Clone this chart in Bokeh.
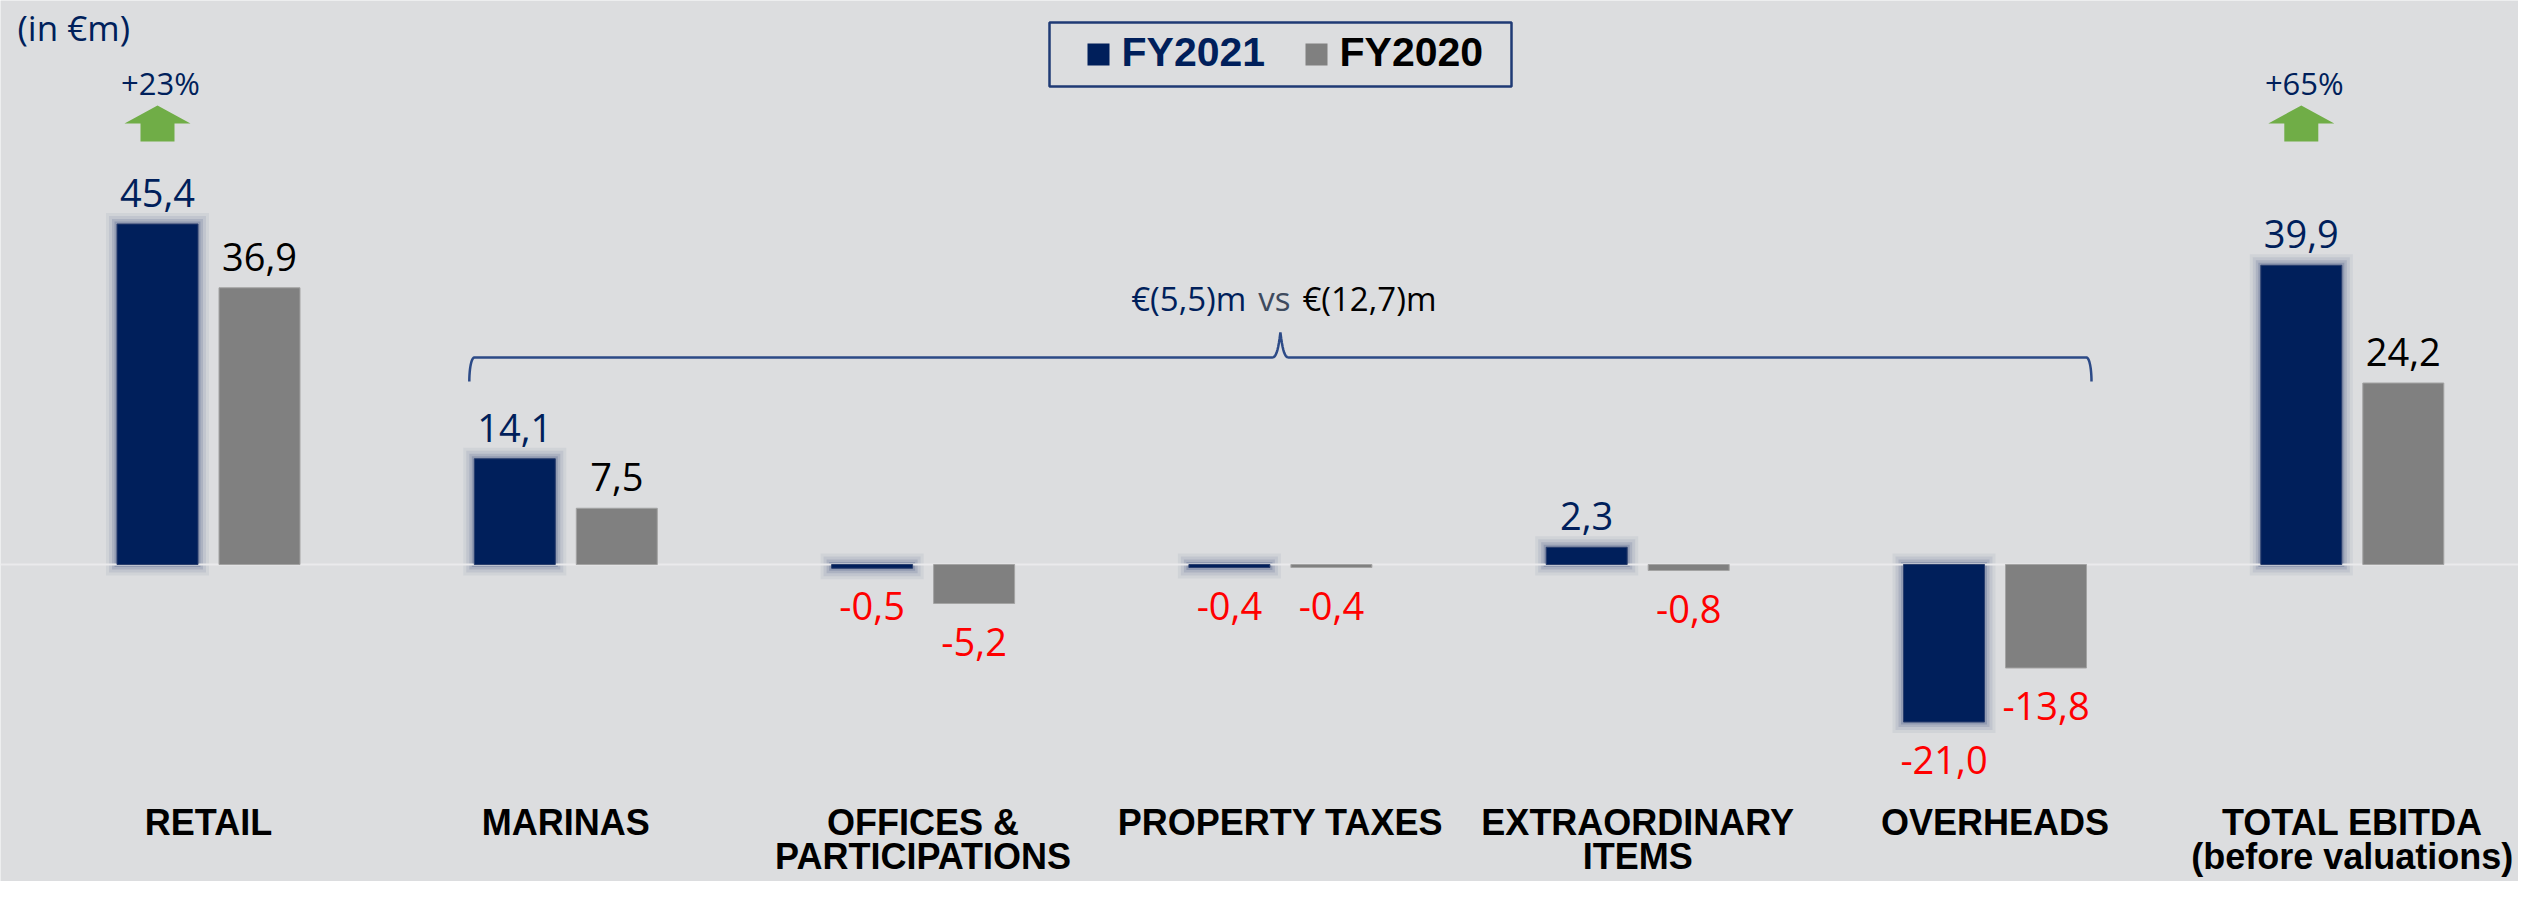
import math
from bokeh.plotting import figure
from bokeh.models import Range1d, ColumnDataSource
from bokeh.core.properties import value
from bokeh.embed import file_html
from bokeh.resources import INLINE

# ---------------- data ----------------
cat_line1 = ["RETAIL", "MARINAS", "OFFICES &", "PROPERTY TAXES", "EXTRAORDINARY", "OVERHEADS", "TOTAL EBITDA"]
cat_line2 = ["", "", "PARTICIPATIONS", "", "ITEMS", "", "(before valuations)"]
fy2021 = [45.4, 14.1, -0.5, -0.4, 2.3, -21.0, 39.9]
fy2020 = [36.9, 7.5, -5.2, -0.4, -0.8, -13.8, 24.2]
series_names = ["FY2021", "FY2020"]
growth_idx = [0, 6]
growth_text = ["+23%", "+65%"]
bracket_idx = [1, 5]          # bracket spans MARINAS .. OVERHEADS
unit_label = "(in €m)"

# ---------------- style ----------------
BG = "#DCDDDF"
NAVY = "#001F5B"
GREY = "#808080"
RED = "#FF0000"
GREEN = "#70AD47"
BRACKET = "#2C4A87"

W, H = 2518, 881
PXX = 357.3        # pixels per category
PXY = 7.5          # pixels per €m
X0 = -208 / PXX
X1 = X0 + W / PXX
YTOP = 564 / PXY
YBOT = YTOP - H / PXY

def RX(rx):
    return (rx - 208) / PXX

def RY(ry):
    return (564 - ry) / PXY

def FS(px):
    return f"{px:.1f}px"

BASE_FIX = 0.26   # em correction of the rendered alphabetic baseline

def TY(y_data, font_px):
    return y_data + BASE_FIX * font_px / PXY

OFF = 51 / PXX
BW = 81 / PXX

def fmt(v):
    return f"{v:.1f}".replace(".", ",")

p = figure(width=W, height=H, output_backend="svg", toolbar_location=None,
           x_range=Range1d(X0, X1), y_range=Range1d(YBOT, YTOP),
           x_axis_type=None, y_axis_type=None, min_border=0)
p.background_fill_color = BG
p.border_fill_color = BG
p.outline_line_color = None
p.grid.visible = False

n = len(fy2021)
xs = list(range(n))
xb = [x - OFF for x in xs]
xg = [x + OFF for x in xs]

# glow around FY2021 bars
for ex, al in [(11, 0.09), (8, 0.13), (5, 0.2), (2.5, 0.32)]:
    p.vbar(x=xb, width=BW + 2 * ex / PXX,
           top=[max(v, 0) + ex / PXY for v in fy2021],
           bottom=[min(v, 0) - ex / PXY for v in fy2021],
           fill_color="#5B6B8F", fill_alpha=al, line_color=None)

# baseline
p.line([X0, X1], [0, 0], line_color="#EAEAEC", line_width=2)

# bars
p.vbar(x=xb, width=BW, top=[max(v, 0) for v in fy2021], bottom=[min(v, 0) for v in fy2021],
       fill_color=NAVY, line_color="#2A3F6E", line_width=1)
p.vbar(x=xg, width=BW, top=[max(v, 0) for v in fy2020], bottom=[min(v, 0) for v in fy2020],
       fill_color=GREY, line_color="#A3A3A3", line_width=1)

# value labels
VF = 38
def lab_y(v):
    return TY(v + 21 / PXY if v > 0 else v - 48 / PXY, VF)

src_lab = ColumnDataSource(dict(
    x=xb + xg,
    y=[lab_y(v) for v in fy2021] + [lab_y(v) for v in fy2020],
    t=[fmt(v) for v in fy2021] + [fmt(v) for v in fy2020],
    c=[(NAVY if v > 0 else RED) for v in fy2021] + [("#000000" if v > 0 else RED) for v in fy2020],
))
p.text(x="x", y="y", text="t", text_color="c", source=src_lab,
       text_font=value("Open Sans"), text_font_size=FS(VF),
       text_align="center", text_baseline="alphabetic")

# category labels
CF = 36
p.text(x=xs, y=[TY(RY(831), CF)] * n, text=cat_line1, text_font=value("Liberation Sans"),
       text_font_style="bold", text_font_size=FS(CF), text_color="#000000",
       text_align="center", text_baseline="alphabetic")
p.text(x=xs, y=[TY(RY(865), CF)] * n, text=cat_line2, text_font=value("Liberation Sans"),
       text_font_style="bold", text_font_size=FS(CF), text_color="#000000",
       text_align="center", text_baseline="alphabetic")

# growth arrows + text
GF = 31
for gi, gt in zip(growth_idx, growth_text):
    cx = gi - OFF
    hw_t, hw_s = 33 / PXX, 17 / PXX
    ax = [cx, cx + hw_t, cx + hw_s, cx + hw_s, cx - hw_s, cx - hw_s, cx - hw_t]
    ay = [RY(105), RY(123), RY(123), RY(141), RY(141), RY(123), RY(123)]
    p.patch(ax, ay, fill_color=GREEN, line_color=None)
    p.text(x=[cx + 3 / PXX], y=[TY(RY(91), GF)], text=[gt], text_font=value("Open Sans"),
           text_font_size=FS(GF), text_color=NAVY, text_align="center",
           text_baseline="alphabetic")

# unit label
UF = 35
p.text(x=[RX(17)], y=[TY(RY(36), UF)], text=[unit_label], text_font=value("Open Sans"),
       text_font_size=FS(UF), text_color=NAVY, text_align="left", text_baseline="alphabetic")

# legend
LF = 41
p.quad(left=[RX(1049)], right=[RX(1511)], top=[RY(22)], bottom=[RY(86)],
       fill_color=None, line_color="#1F3A75", line_width=2.5)
p.quad(left=[RX(1087), RX(1305)], right=[RX(1109), RX(1327)], top=[RY(43)] * 2, bottom=[RY(65)] * 2,
       fill_color=[NAVY, GREY], line_color=None)
p.text(x=[RX(1121), RX(1339)], y=[TY(RY(62), LF)] * 2, text=series_names,
       text_color=[NAVY, "#000000"], text_font=value("Liberation Sans"), text_font_style="bold",
       text_font_size=FS(LF), text_align="left", text_baseline="alphabetic")

# bracket
xL = bracket_idx[0] - OFF - BW / 2 - 5 / PXX
xR = bracket_idx[1] + OFF + BW / 2 + 5 / PXX
mid = (xL + xR) / 2
yT = RY(357)
yB = RY(381)
yA = RY(332)
bx, by = [], []
K = 12
for k in range(K + 1):
    th = math.pi / 2 * k / K
    bx.append(xL + 5 / PXX * (1 - math.cos(th)))
    by.append(yB + (yT - yB) * math.sin(th))
wc = 9 / PXX
for k in range(K + 1):
    s = 1 - k / K
    bx.append(mid - wc * s)
    by.append(yT + (yA - yT) * (1 - s) ** 3)
for k in range(K, -1, -1):
    s = 1 - k / K
    bx.append(mid + wc * s)
    by.append(yT + (yA - yT) * (1 - s) ** 3)
for k in range(K, -1, -1):
    th = math.pi / 2 * k / K
    bx.append(xR - 5 / PXX * (1 - math.cos(th)))
    by.append(yB + (yT - yB) * math.sin(th))
p.line(bx, by, line_color=BRACKET, line_width=2.5)

s21 = sum(fy2021[bracket_idx[0]:bracket_idx[1] + 1])
s20 = sum(fy2020[bracket_idx[0]:bracket_idx[1] + 1])
BF = 33
ty = TY(RY(307), BF)
p.text(x=[mid - 34 / PXX], y=[ty], text=[f"€({fmt(abs(s21))})m"], text_color=NAVY,
       text_font=value("Open Sans"), text_font_size=FS(BF), text_align="right", text_baseline="alphabetic")
p.text(x=[mid - 6 / PXX], y=[ty], text=["vs"], text_color="#3E4A5E",
       text_font=value("Open Sans"), text_font_size=FS(BF), text_align="center", text_baseline="alphabetic")
p.text(x=[mid + 22 / PXX], y=[ty], text=[f"€({fmt(abs(s20))})m"], text_color="#000000",
       text_font=value("Open Sans"), text_font_size=FS(BF), text_align="left", text_baseline="alphabetic")

open("out.html", "w").write(file_html(p, INLINE))
